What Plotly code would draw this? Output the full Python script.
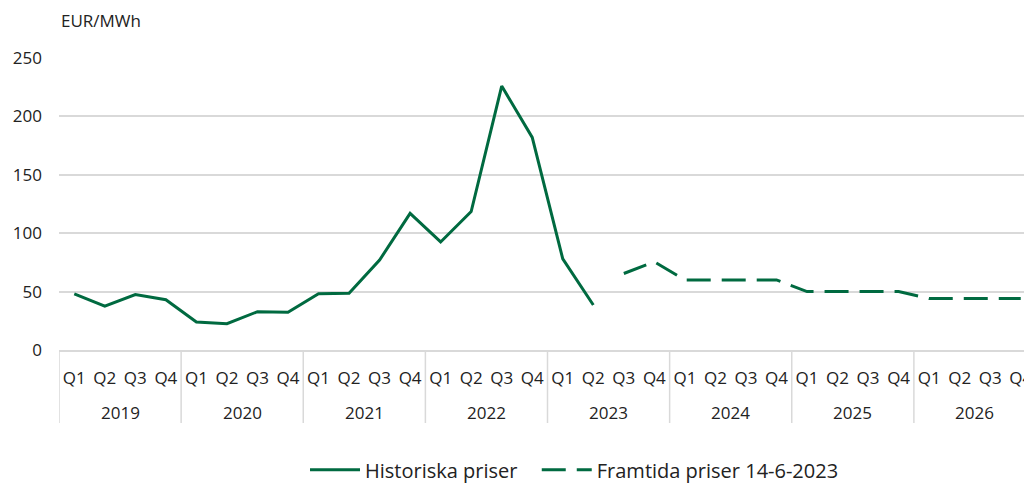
import plotly.graph_objects as go

year_labels = ["2019", "2020", "2021", "2022", "2023", "2024", "2025", "2026"]
quarter_labels = ["Q1", "Q2", "Q3", "Q4"]
categories = [f"{y} {q}" for y in year_labels for q in quarter_labels]
tick_text = quarter_labels * len(year_labels)

historical = [48, 37.5, 47.5, 43, 24, 22.5, 32.8, 32.3, 48.2, 48.5, 77, 117,
              92.5, 118.5, 226, 182, 78, 38.5] + [None] * 14
forward = [None] * 18 + [65.5, 75.5, 60, 60, 60, 60, 50, 50, 50, 50, 44, 44, 44, 44]

green = "#006A40"
grid = "#D9D9D9"
font = "Open Sans, Noto Sans, sans-serif"
txt = "#222222"

fig = go.Figure()
fig.add_trace(go.Scatter(x=categories, y=historical, mode="lines",
                         name="Historiska priser", legend="legend",
                         line=dict(color=green, width=3), connectgaps=False))
fig.add_trace(go.Scatter(x=categories, y=forward, mode="lines",
                         name="Framtida priser 14-6-2023", legend="legend2",
                         line=dict(color=green, width=3, dash="24px,11px"),
                         connectgaps=False))

annotations = [dict(text="EUR/MWh", xref="paper", yref="paper", x=0.0, y=1.0,
                    yshift=51, xanchor="left", yanchor="top", showarrow=False,
                    font=dict(size=17, family=font, color=txt))]
shapes = []
for i, yl in enumerate(year_labels):
    annotations.append(dict(text=yl, xref="x", yref="paper", x=4 * i + 1.5, y=0,
                            yshift=-62, xanchor="center", yanchor="middle",
                            showarrow=False,
                            font=dict(size=17, family=font, color=txt)))
    shapes.append(dict(type="line", xref="x", yref="paper", x0=4 * i - 0.5,
                       x1=4 * i - 0.5, y0=0, y1=-73 / 292,
                       line=dict(color=grid, width=1.5)))

legend_style = dict(orientation="h", y=-0.41, yanchor="middle", xanchor="left",
                    font=dict(size=20), itemwidth=50, bgcolor="rgba(0,0,0,0)")

fig.update_layout(
    width=1032, height=486,
    margin=dict(l=51, r=4, t=50, b=144, autoexpand=False),
    paper_bgcolor="white", plot_bgcolor="white",
    font=dict(family=font, size=17, color=txt),
    showlegend=True,
    legend=dict(x=0.2518, **legend_style),
    legend2=dict(x=0.489, **legend_style),
    annotations=annotations,
    shapes=shapes,
)
fig.update_xaxes(type="category", range=[-0.5, 31.5], automargin=False,
                 tickmode="array", tickvals=categories, ticktext=tick_text,
                 showgrid=False, showline=True, linecolor=grid, linewidth=1.5,
                 ticks="", ticklabelstandoff=12, tickfont=dict(size=17))
fig.update_yaxes(range=[0, 250], dtick=50, showgrid=True, gridcolor=grid,
                 gridwidth=1.5, zeroline=False, showline=False, automargin=False,
                 tickfont=dict(size=17), ticklabelstandoff=16)

fig.write_html("out.html")
